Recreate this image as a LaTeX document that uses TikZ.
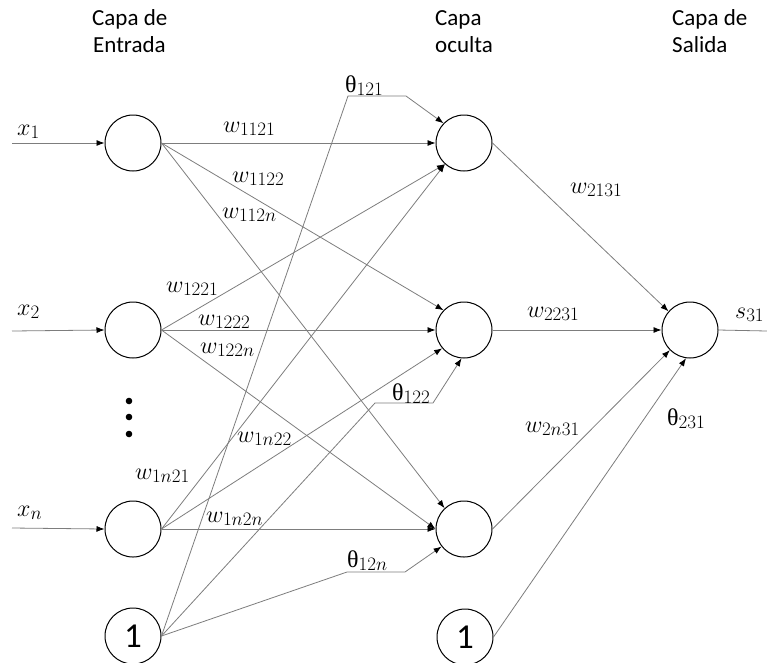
\RequirePackage{fix-cm}
\documentclass[tikz,border=0pt]{standalone}
\usepackage[no-math]{fontspec}
\setmainfont{Carlito}
\newfontfamily\thetafont{Liberation Serif}
\usetikzlibrary{arrows.meta}
\DeclareMathSizes{24}{24}{19}{15}

\definecolor{wire}{RGB}{125,125,125}

\tikzset{
  neuron/.style={circle, draw=black, line width=1pt, minimum size=56pt, inner sep=0pt},
  biasnode/.style={neuron, font=\fontsize{35}{35}\selectfont},
  wireline/.style={draw=wire, line width=0.8pt},
  arr/.style={wireline, -{Latex[length=8pt,width=6pt,color=black]}},
  lbl/.style={anchor=base west, inner sep=0pt, font=\fontsize{24}{28}\selectfont},
  hdr/.style={anchor=base west, inner sep=0pt, font=\fontsize{23}{27}\selectfont},
  dotmark/.style={fill=black, circle, inner sep=0pt, minimum size=6.6pt}
}

\begin{document}
\begin{tikzpicture}[x=1pt, y=-1pt]
\useasboundingbox (0,0) rectangle (767,662);

% layer titles
\node[hdr] (t1a) at (92,25) {Capa de};
\node[hdr] (t1b) at (93,52) {Entrada};
\node[hdr] (t2a) at (435,25) {Capa};
\node[hdr] (t2b) at (435,52) {oculta};
\node[hdr] (t3a) at (672,25) {Capa de};
\node[hdr] (t3b) at (672,52) {Salida};

% neurons
\node[neuron] (i1) at (133,143) {};
\node[neuron] (i2) at (133,330) {};
\node[neuron] (in) at (133,529) {};
\node[biasnode] (b1) at (133,636) {1};

\node[neuron] (h1) at (464,143) {};
\node[neuron] (h2) at (464,330) {};
\node[neuron] (h3) at (464,529) {};
\node[biasnode] (b2) at (465,637) {1};

\node[neuron] (o) at (690,330) {};

% vertical ellipsis
\node[dotmark] (d1) at (129,401) {};
\node[dotmark] (d2) at (129,417) {};
\node[dotmark] (d3) at (129,434) {};

% inputs
\coordinate (s1) at (12,143);
\coordinate (s2) at (12,331);
\coordinate (sn) at (12,528);
\draw[arr] (s1) -- (i1.west);
\draw[arr] (s2) -- (i2.west);
\draw[arr] (sn) -- (in.west);

% input -> hidden
\draw[arr] (i1.east) -- (h1.west);
\draw[arr] (i1.east) -- (h2.136);
\draw[arr] (i1.east) -- (h3.133);
\draw[arr] (i2.east) -- (h1.228);
\draw[arr] (i2.east) -- (h2.west);
\draw[arr] (i2.east) -- (h3.west);
\draw[arr] (in.east) -- (h1.228);
\draw[arr] (in.east) -- (h2.220);
\draw[arr] (in.east) -- (h3.west);

% hidden thresholds
\coordinate (k1a) at (348,96);  \coordinate (k1b) at (406,96);
\coordinate (k2a) at (375,403); \coordinate (k2b) at (433,403);
\coordinate (k3a) at (347,572); \coordinate (k3b) at (405,572);
\draw[arr] (b1.east) -- (k1a) -- (k1b) -- (h1.136);
\draw[arr] (b1.east) -- (k2a) -- (k2b) -- (h2.265);
\draw[arr] (b1.east) -- (k3a) -- (k3b) -- (h3.218);

% hidden -> output
\draw[arr] (h1.east) -- (o.139);
\draw[arr] (h2.east) -- (o.west);
\draw[arr] (h3.east) -- (o.225);
\draw[arr] (b2.east) -- (o.262);
\coordinate (send) at (767,331);
\draw[wireline] (o.east) -- (send);

% labels
\node[lbl] (lx1) at (17,135) {$x_1$};
\node[lbl] (lx2) at (17,315) {$x_2$};
\node[lbl] (lxn) at (17,516) {$x_n$};

\node[lbl] (l1121) at (223,132) {$w_{1121}$};
\node[lbl] (l1122) at (232,182) {$w_{1122}$};
\node[lbl] (l112n) at (222,218) {$w_{112n}$};
\node[lbl] (l1221) at (166,292) {$w_{1221}$};
\node[lbl] (l1222) at (198,325) {$w_{1222}$};
\node[lbl] (l122n) at (200,353) {$w_{122n}$};
\node[lbl] (l1n22) at (237,442) {$w_{1n22}$};
\node[lbl] (l1n21) at (135,479) {$w_{1n21}$};
\node[lbl] (l1n2n) at (206,522) {$w_{1n2n}$};

\node[lbl] (th121) at (345,92) {{\thetafont θ}$_{121}$};
\node[lbl] (th122) at (392,400) {{\thetafont θ}$_{122}$};
\node[lbl] (th12n) at (347,567) {{\thetafont θ}$_{12n}$};

\node[lbl] (l2131) at (570,193) {$w_{2131}$};
\node[lbl] (l2231) at (527,317) {$w_{2231}$};
\node[lbl] (l2n31) at (525,432) {$w_{2n31}$};
\node[lbl] (th231) at (667,425) {{\thetafont θ}$_{231}$};
\node[lbl] (ls31) at (735,318) {$s_{31}$};
\end{tikzpicture}
\end{document}
